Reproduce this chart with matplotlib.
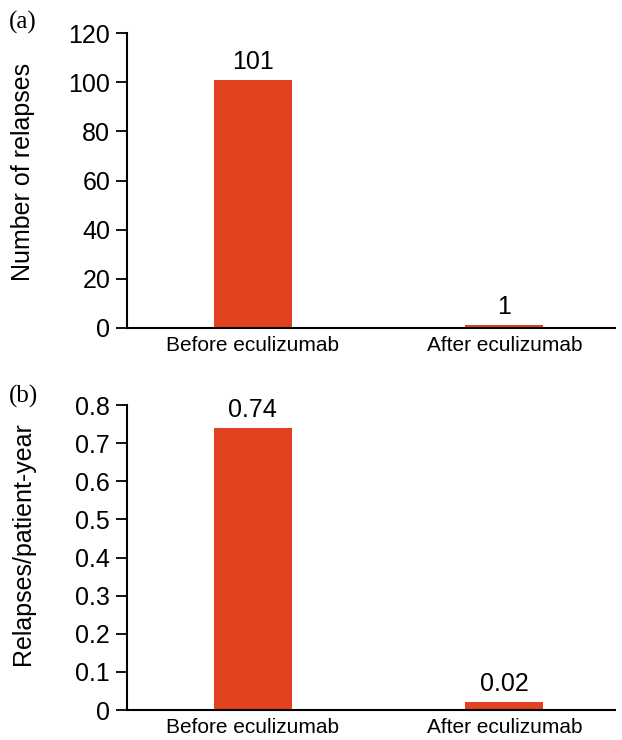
import matplotlib
matplotlib.use("Agg")
import matplotlib.pyplot as plt

categories = ["Before eculizumab", "After eculizumab"]
relapses = [101, 1]
relapses_labels = ["101", "1"]
rate = [0.74, 0.02]
rate_labels = ["0.74", "0.02"]
yticks_a = [0, 20, 40, 60, 80, 100, 120]
yticks_b = [0, 0.1, 0.2, 0.3, 0.4, 0.5, 0.6, 0.7, 0.8]
yticklabels_b = ["0", "0.1", "0.2", "0.3", "0.4", "0.5", "0.6", "0.7", "0.8"]

plt.rcParams['font.family'] = ['Liberation Sans', 'DejaVu Sans']
color = '#E2431E'

fig = plt.figure(figsize=(6.22, 7.4), dpi=100)
ax_a = fig.add_axes([0.204, 0.557, 0.785, 0.398])
ax_b = fig.add_axes([0.204, 0.0405, 0.785, 0.412])

def style(ax, values, labels, yticks, ylim, yticklabels, ylabel, ly):
    x = list(range(len(categories)))
    bars = ax.bar(x, values, width=0.31, color=color, edgecolor='none')
    for b, lab in zip(bars, labels):
        ax.text(b.get_x() + b.get_width() / 2, b.get_height() + ylim * 0.02, lab,
                ha='center', va='bottom', fontsize=18)
    ax.set_xlim(-0.5, 1.44)
    ax.set_ylim(0, ylim)
    ax.set_yticks(yticks)
    ax.set_yticklabels(yticklabels, fontsize=18)
    ax.set_xticks(x)
    ax.set_xticklabels(categories, fontsize=15)
    ax.tick_params(axis='x', length=0, pad=6)
    ax.tick_params(axis='y', length=8, width=1.3, pad=4)
    ax.spines['top'].set_visible(False)
    ax.spines['right'].set_visible(False)
    ax.spines['left'].set_linewidth(1.5)
    ax.spines['bottom'].set_linewidth(1.5)
    ax.set_ylabel(ylabel, fontsize=18)
    ax.yaxis.set_label_coords(-0.189, ly)

style(ax_a, relapses, relapses_labels, yticks_a, 120, [str(t) for t in yticks_a], "Number of relapses", 0.53)
style(ax_b, rate, rate_labels, yticks_b, 0.8, yticklabels_b, "Relapses/patient-year", 0.545)

fig.text(0.014, 0.985, "(a)", family='Liberation Serif', fontsize=18, ha='left', va='top')
fig.text(0.014, 0.48, "(b)", family='Liberation Serif', fontsize=18, ha='left', va='top')

fig.savefig("out.png", dpi=100)
